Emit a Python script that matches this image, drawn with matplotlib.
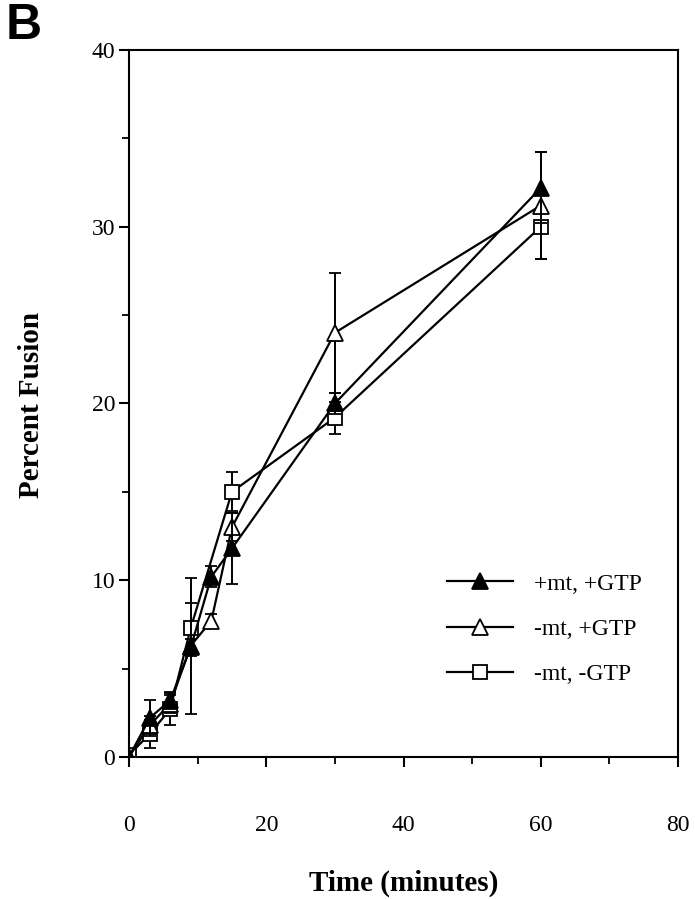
import numpy as np
import matplotlib
matplotlib.use("Agg")
import matplotlib.pyplot as plt
from matplotlib.lines import Line2D

# Data
time_all = [0, 3, 6, 9, 12, 15, 30, 60]
plus_mt_plus_gtp = [0, 2.2, 3.2, 6.2, 10.2, 11.8, 20.0, 32.2]
plus_mt_plus_gtp_err = [0, 1.0, 0.5, 0.5, 0.6, 2.0, 0.6, 2.0]
minus_mt_plus_gtp = [0, 1.8, 3.0, 6.3, 7.7, 13.0, 24.0, 31.2]
minus_mt_plus_gtp_err = [0, 0.5, 0.5, 3.85, 0.4, 0.8, 3.4, 3.0]
time_sq = [0, 3, 6, 9, 15, 30, 60]
minus_mt_minus_gtp = [0.1, 1.3, 2.7, 7.3, 15.0, 19.2, 30.0]
minus_mt_minus_gtp_err = [0, 0.8, 0.9, 1.4, 1.1, 0.9, 1.8]
labels = ["+mt, +GTP", "-mt, +GTP", "-mt, -GTP"]

plt.rcParams['font.family'] = ['Liberation Serif', 'DejaVu Serif']

fig = plt.figure(figsize=(6.95, 8.99), dpi=100)
ax = fig.add_axes([0.1856, 0.158, 0.79, 0.7864])

lw = 1.6
common = dict(color='black', lw=lw, capsize=4.5, elinewidth=1.4, capthick=1.4)
ax.errorbar(time_sq, minus_mt_minus_gtp, yerr=minus_mt_minus_gtp_err, marker='s',
            ms=10, mfc='white', mec='black', mew=1.3, zorder=3, **common)
ax.errorbar(time_all, minus_mt_plus_gtp, yerr=minus_mt_plus_gtp_err, marker='^',
            ms=11, mfc='white', mec='black', mew=1.3, zorder=4, **common)
ax.errorbar(time_all, plus_mt_plus_gtp, yerr=plus_mt_plus_gtp_err, marker='^',
            ms=11, mfc='black', mec='black', mew=1.3, zorder=5, **common)

ax.set_xlim(0, 80)
ax.set_ylim(0, 40)
ax.set_xticks([0, 20, 40, 60, 80])
ax.set_xticks([10, 30, 50, 70], minor=True)
ax.set_yticks([0, 10, 20, 30, 40])
ax.set_yticks([5, 15, 25, 35], minor=True)
ax.tick_params(axis='both', which='major', direction='out', length=7, width=1.5,
               labelsize=17, pad=3)
ax.tick_params(axis='both', which='minor', direction='out', length=5, width=1.3)
ax.tick_params(axis='x', pad=35)
for s in ax.spines.values():
    s.set_linewidth(1.5)

fig.text(0.5806, 1 - 883 / 899, "Time (minutes)", fontsize=21, fontweight='bold',
         ha='center', va='center')
fig.text(32 / 695, 1 - 405 / 899, "Percent Fusion", fontsize=21, fontweight='bold',
         rotation=90, ha='center', va='center')

handles = [
    Line2D([], [], color='black', lw=lw, marker='^', ms=11, mfc='black', mec='black', mew=1.3),
    Line2D([], [], color='black', lw=lw, marker='^', ms=11, mfc='white', mec='black', mew=1.3),
    Line2D([], [], color='black', lw=lw, marker='s', ms=10, mfc='white', mec='black', mew=1.3),
]
ax.legend(handles, labels, loc='upper left', bbox_to_anchor=(0.54, 0.29), frameon=False,
          fontsize=17, handlelength=2.8, labelspacing=1.0, handletextpad=0.9)

fig.text(0.008, 0.997, "B", fontsize=36, fontweight='bold', va='top', ha='left',
         family='Liberation Sans')

fig.savefig("out.png", dpi=100)
